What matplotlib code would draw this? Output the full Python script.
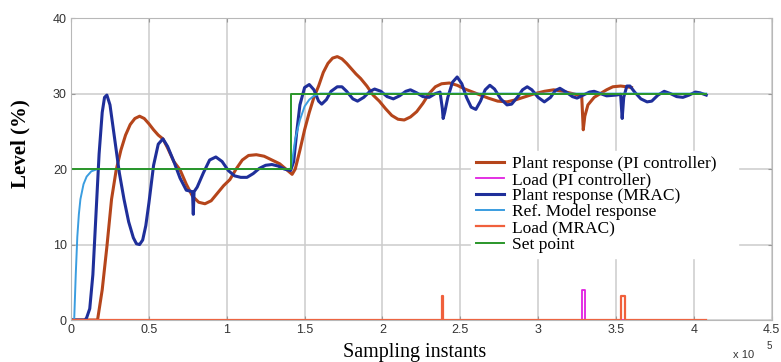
import numpy as np
import matplotlib
matplotlib.use('Agg')
import matplotlib.pyplot as plt

# sampling instants in units of 1e5
pi_x = [0, 0.17, 0.20, 0.23, 0.26, 0.29, 0.32, 0.35, 0.38, 0.41, 0.44, 0.47, 0.50, 0.53,
        0.56, 0.59, 0.62, 0.66, 0.70, 0.74, 0.78, 0.82, 0.86, 0.90, 0.94, 0.98, 1.02, 1.06,
        1.10, 1.14, 1.19, 1.24, 1.29, 1.34, 1.38, 1.42, 1.44, 1.47, 1.50, 1.53, 1.56, 1.59,
        1.62, 1.65, 1.68, 1.71, 1.74, 1.77, 1.80, 1.83, 1.86, 1.90, 1.94, 1.98, 2.02, 2.06,
        2.10, 2.14, 2.18, 2.22, 2.26, 2.30, 2.34, 2.38, 2.43, 2.48, 2.53, 2.58, 2.63, 2.68,
        2.74, 2.80, 2.86, 2.92, 2.98, 3.04, 3.10, 3.16, 3.22, 3.28, 3.29, 3.30, 3.32, 3.36,
        3.40, 3.44, 3.48, 3.53, 3.57, 3.60]
pi_y = [0, 0, 4, 9.7, 16, 19.9, 22.5, 24.5, 25.9, 26.7, 27.0, 26.7, 26.0, 25.2,
        24.5, 24.0, 22.8, 21, 19.9, 18, 16.4, 15.6, 15.4, 15.8, 16.8, 17.8, 18.6, 20,
        21.2, 21.8, 21.9, 21.7, 21.2, 20.7, 20.0, 19.3, 20, 22.5, 25.2, 27.5, 29.5, 31,
        32.8, 34.0, 34.7, 34.9, 34.6, 34.0, 33.3, 32.6, 32.0, 31.0, 29.8, 29.0, 28.0, 27.1,
        26.6, 26.5, 26.9, 27.6, 28.7, 30.0, 30.9, 31.3, 31.4, 31.1, 30.6, 30.2, 29.8, 29.4,
        29.0, 28.9, 29.2, 29.6, 30.0, 30.3, 30.5, 30.3, 30.0, 29.7, 25.2, 27, 28.5, 29.5,
        30.0, 30.5, 30.9, 31.0, 30.9, 30.8]

load_pi_x = [0, 3.28, 3.28, 3.30, 3.30, 3.60]
load_pi_y = [0, 0, 4, 4, 0, 0]

mrac_x = [0, 0.09, 0.10, 0.12, 0.14, 0.16, 0.18, 0.20, 0.215, 0.23, 0.25, 0.28, 0.31, 0.34,
          0.37, 0.40, 0.42, 0.44, 0.46, 0.48, 0.50, 0.53, 0.56, 0.59, 0.62, 0.66, 0.70,
          0.74, 0.78, 0.785, 0.79, 0.81, 0.85, 0.89, 0.93, 0.97, 1.01, 1.05, 1.09, 1.13,
          1.17, 1.21, 1.25, 1.29, 1.33, 1.37, 1.41, 1.43, 1.45, 1.47, 1.50, 1.53, 1.56,
          1.59, 1.61, 1.64, 1.67, 1.71, 1.74, 1.77, 1.81, 1.84, 1.88, 1.92, 1.95, 1.99,
          2.03, 2.07, 2.11, 2.15, 2.18, 2.22, 2.26, 2.30, 2.34, 2.37, 2.385, 2.39, 2.40,
          2.42, 2.45, 2.48, 2.51, 2.54, 2.57, 2.60, 2.63, 2.66, 2.69, 2.72, 2.76, 2.80,
          2.83, 2.87, 2.90, 2.93, 2.96, 3.00, 3.04, 3.08, 3.11, 3.14, 3.18, 3.22, 3.25,
          3.29, 3.33, 3.36, 3.40, 3.44, 3.50, 3.53, 3.54, 3.55, 3.57, 3.59, 3.62, 3.66,
          3.70, 3.73, 3.77, 3.81, 3.85, 3.89, 3.93, 3.97, 4.01, 4.04, 4.08]
mrac_y = [0, 0, 0.3, 1.5, 6, 14, 22, 27.5, 29.5, 29.8, 28.5, 24, 19.5, 16,
          13, 10.9, 10.1, 10.0, 10.6, 12.5, 15.5, 20.5, 23.3, 24, 23, 21, 18.8,
          17.2, 17, 14, 17, 17.6, 19.5, 21.2, 21.6, 21, 19.8, 19.1, 18.9, 18.9,
          19.4, 20.1, 20.5, 20.6, 20.4, 20.0, 19.8, 21, 25, 28.5, 30.8, 31.2, 30.5,
          29.0, 28.6, 29.2, 30.3, 30.9, 30.9, 30.3, 29.3, 29.0, 29.5, 30.3, 30.6, 30.3,
          29.6, 29.3, 29.7, 30.3, 30.5, 30.1, 29.6, 29.5, 30.0, 30.2, 28, 26.7, 27.5,
          29.5, 31.5, 32.2, 31.3, 29.5, 28.2, 27.9, 29, 30.5, 31.1, 30.6, 29.3, 28.5,
          28.6, 29.6, 30.5, 30.9, 30.5, 29.5, 28.9, 29.5, 30.4, 30.7, 30.2, 29.6, 29.4,
          29.8, 30.2, 30.3, 30.0, 29.7, 29.8, 29.9, 26.7, 29.5, 31.0, 31.0, 30.2, 29.3,
          28.9, 29.0, 29.8, 30.3, 30.0, 29.6, 29.5, 29.8, 30.2, 30.1, 29.8]

ref_x = [0, 0.02, 0.03, 0.04, 0.05, 0.06, 0.08, 0.10, 0.13, 0.17, 1.41, 1.42, 1.44,
         1.47, 1.50, 1.53, 1.56, 1.60, 1.65, 4.08]
ref_y = [0, 0, 6, 11, 14, 16, 18, 19, 19.7, 20, 20, 21, 24,
         26.5, 28.3, 29.2, 29.7, 30.0, 30.0, 30.0]

load_mrac_x = [0, 2.38, 2.38, 2.39, 2.39, 3.53, 3.53, 3.56, 3.56, 4.08]
load_mrac_y = [0, 0, 3.2, 3.2, 0, 0, 3.2, 3.2, 0, 0]

sp_x = [0, 1.41, 1.41, 4.08]
sp_y = [20, 20, 30, 30]

xticks = [0, 0.5, 1, 1.5, 2, 2.5, 3, 3.5, 4, 4.5]
xtick_labels = ['0', '0.5', '1', '1.5', '2', '2.5', '3', '3.5', '4', '4.5']
yticks = [0, 10, 20, 30, 40]

serif = 'Liberation Serif'
sans = 'Liberation Sans'

fig = plt.figure(figsize=(7.81, 3.62), dpi=100)
ax = fig.add_axes([0.091, 0.116, 0.897, 0.834])

ax.plot(pi_x, pi_y, color='#b5451b', lw=2.2, label='Plant response (PI controller)')
ax.plot(load_pi_x, load_pi_y, color='#e020e0', lw=1.3, label='Load (PI controller)')
ax.plot(mrac_x, mrac_y, color='#1f2f9a', lw=2.2, label='Plant response (MRAC)')
ax.plot(ref_x, ref_y, color='#3a9de0', lw=1.4, label='Ref. Model response')
ax.plot(load_mrac_x, load_mrac_y, color='#f0603c', lw=1.6, label='Load (MRAC)')
ax.plot(sp_x, sp_y, color='#2a962a', lw=1.4, label='Set point')

ax.set_xlim(0, 4.5)
ax.set_ylim(0, 40)
ax.set_xticks(xticks)
ax.set_xticklabels(xtick_labels)
ax.set_yticks(yticks)
ax.grid(True, color='#cccccc', lw=1.1)
ax.set_axisbelow(True)
for s in ax.spines.values():
    s.set_color('#b8b8b8')
ax.tick_params(direction='in', length=3, color='#999999', labelcolor='#333333',
               labelsize=9, pad=3, top=True, right=True)
for lbl in ax.get_xticklabels() + ax.get_yticklabels():
    lbl.set_family(sans)

ax.set_xlabel('Sampling instants', family=serif, fontsize=14.5)
ax.xaxis.set_label_coords(0.49, -0.075)
ax.set_ylabel('Level (%)', family=serif, fontsize=15, fontweight='bold')
ax.yaxis.set_label_coords(-0.058, 0.583)
fig.text(0.938, 0.012, 'x 10', family=sans, fontsize=8, color='#333333')
fig.text(0.982, 0.036, '5', family=sans, fontsize=7, color='#333333')

leg = fig.legend(loc='upper left', bbox_to_anchor=(0.592, 0.32, 0.364, 0.288), mode='expand',
                 prop={'family': serif, 'size': 12.5},
                 frameon=True, fancybox=False, edgecolor='white', framealpha=1,
                 labelspacing=0.0, handlelength=1.6, handletextpad=0.45, borderpad=0.3)

fig.savefig('out.png', dpi=100)
